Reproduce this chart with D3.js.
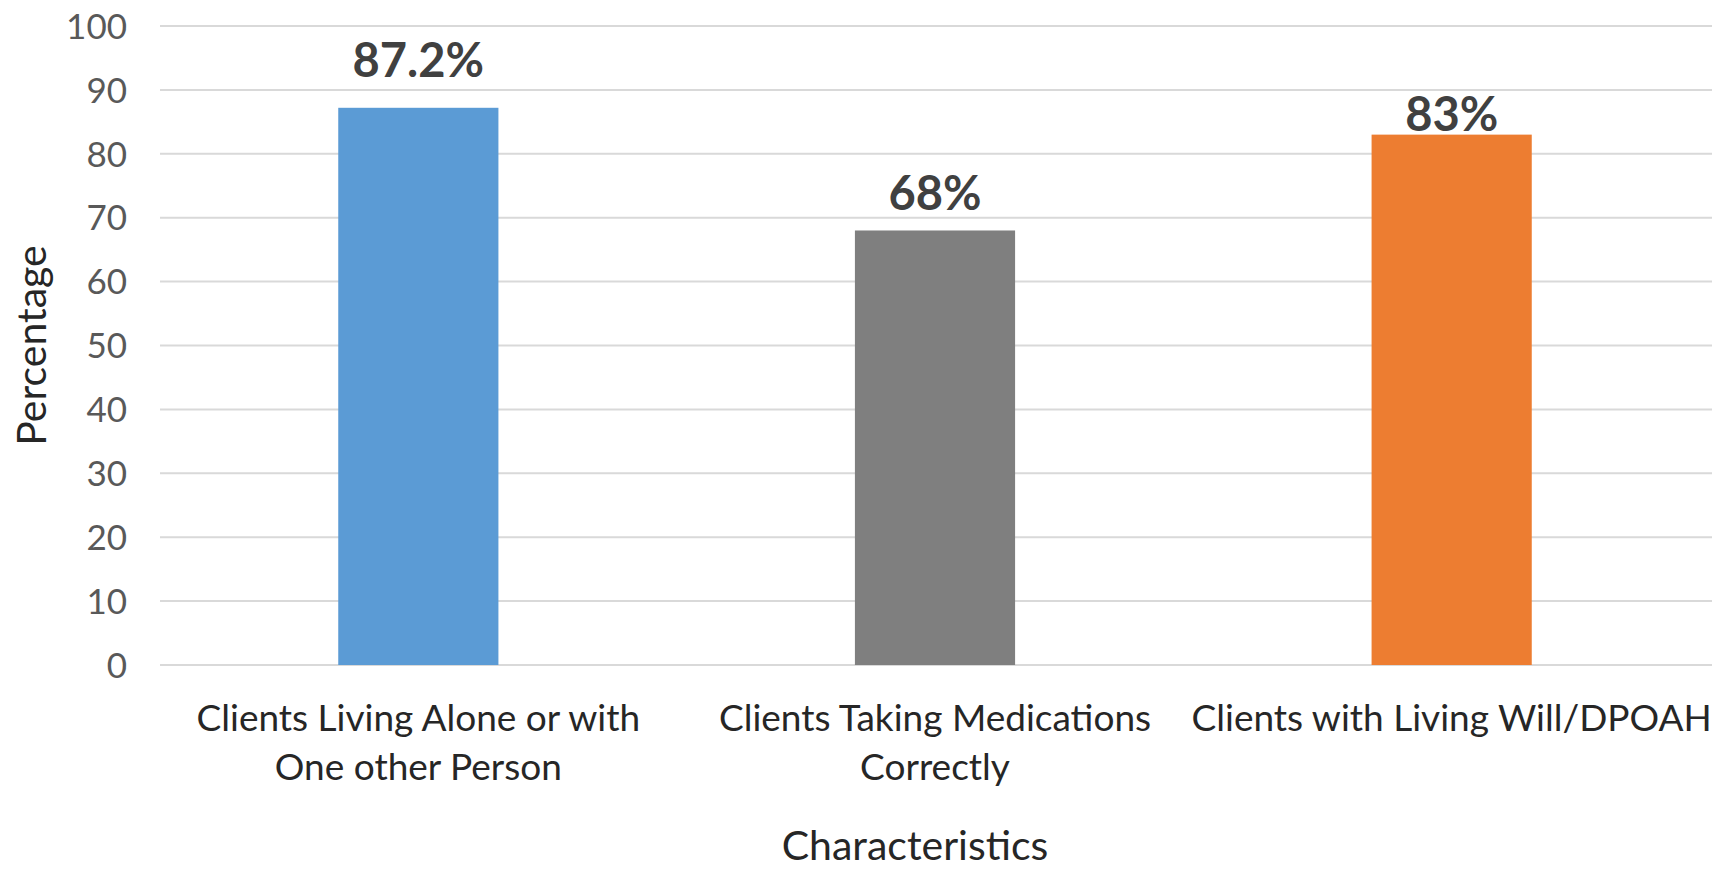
<!DOCTYPE html>
<html>
<head>
<meta charset="utf-8">
<script src="https://cdn.jsdelivr.net/npm/d3@7"></script>
<style>
  html, body { margin: 0; padding: 0; background: #fff; }
  svg { display: block; font-family: Lato, "Open Sans", sans-serif; }
  .grid line { stroke: #d9d9d9; stroke-width: 2; }
  .axis--y text { fill: #595959; font-size: 35px; }
  .cat text { fill: #262626; font-size: 37px; }
  .title { fill: #262626; font-size: 41px; }
  .value { fill: #404040; font-size: 47px; font-weight: bold; }
</style>
</head>
<body>
<div id="chart"></div>
<script>
// data
var categories = [
  "Clients Living Alone or with\nOne other Person",
  "Clients Taking Medications\nCorrectly",
  "Clients with Living Will/DPOAH"
]
var values = [87.2, 68, 83]
var valueLabels = ["87.2%", "68%", "83%"]
var colors = ["#5b9bd5", "#7f7f7f", "#ed7d31"]
var yTicks = [0, 10, 20, 30, 40, 50, 60, 70, 80, 90, 100]

// label gap above each bar (labels were hand-placed in the original)
var labelGap = [31, 20, 4]

var width = 1712, height = 870
var margin = {top: 26, right: 2, bottom: 205, left: 160}

var x = d3.scaleBand()
    .domain(d3.range(categories.length))
    .range([margin.left, width - margin.right])
    .paddingInner(0.69)
    .paddingOuter(0.345)
var y = d3.scaleLinear()
    .domain([0, 100])
    .range([height - margin.bottom, margin.top])

var svg = d3.select('#chart').append('svg')
    .attr('width', width)
    .attr('height', height)

// gridlines
svg.append('g')
    .attr('class', 'grid')
  .selectAll('line').data(yTicks)
  .enter().append('line')
    .attr('x1', margin.left)
    .attr('x2', width)
    .attr('y1', d => y(d))
    .attr('y2', d => y(d))

// y axis labels
var yAxis = d3.axisLeft(y)
    .tickValues(yTicks)
    .tickSize(0)
    .tickPadding(33)
svg.append('g')
    .attr('class', 'axis axis--y')
    .attr('transform', `translate(${margin.left},0)`)
    .call(yAxis)
    .attr('font-family', null)
    .attr('font-size', null)
    .call(g => g.select('.domain').remove())
    .selectAll('text')
      .attr('dy', '0.35em')

// bars
svg.append('g').selectAll('rect').data(values)
  .enter().append('rect')
    .attr('x', (d, i) => x(i))
    .attr('y', d => y(d))
    .attr('width', x.bandwidth())
    .attr('height', d => y(0) - y(d))
    .attr('fill', (d, i) => colors[i])

// value labels
svg.append('g').selectAll('text').data(values)
  .enter().append('text')
    .attr('class', 'value')
    .attr('text-anchor', 'middle')
    .attr('x', (d, i) => x(i) + x.bandwidth() / 2)
    .attr('y', (d, i) => y(d) - labelGap[i])
    .text((d, i) => valueLabels[i])

// category labels
var cat = svg.append('g')
    .attr('class', 'cat')
  .selectAll('text').data(categories)
  .enter().append('text')
    .attr('text-anchor', 'middle')
    .attr('transform', (d, i) => `translate(${x(i) + x.bandwidth() / 2},${y(0) + 66})`)
cat.selectAll('tspan').data(d => d.split('\n'))
  .enter().append('tspan')
    .attr('x', 0)
    .attr('y', (d, i) => i * 49)
    .text(d => d)

// axis titles
svg.append('text')
    .attr('class', 'title')
    .attr('text-anchor', 'middle')
    .attr('x', 915)
    .attr('y', 860)
    .text('Characteristics')
svg.append('text')
    .attr('class', 'title')
    .attr('text-anchor', 'middle')
    .attr('transform', `translate(46,${(y(0) + y(100)) / 2}) rotate(-90)`)
    .text('Percentage')
</script>
</body>
</html>
